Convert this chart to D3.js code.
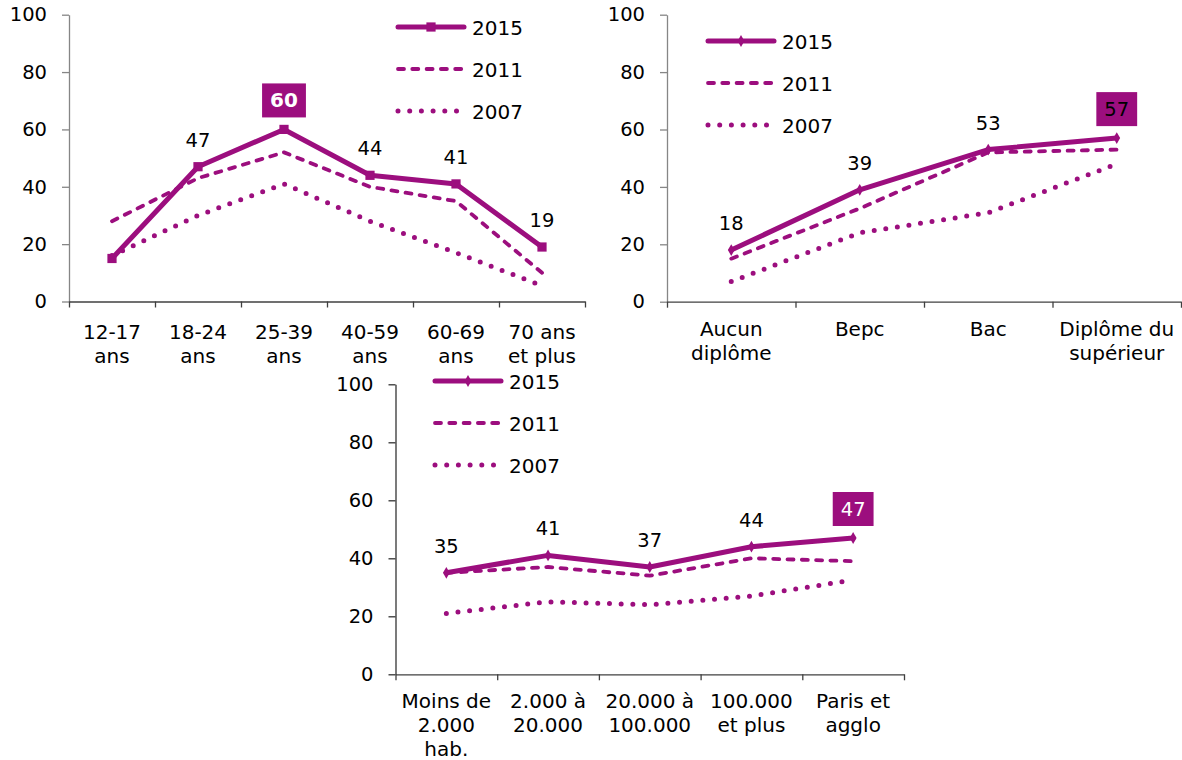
<!DOCTYPE html>
<html>
<head>
<meta charset="utf-8">
<script src="https://cdn.jsdelivr.net/npm/d3@7"></script>
<style>
  html, body { margin: 0; padding: 0; background: #fff; }
  svg { display: block; }
  text { font-family: "DejaVu Sans", Verdana, sans-serif; fill: #000; }
</style>
</head>
<body>
<svg id="chart" width="1182" height="760"></svg>
<script>
// ---------- DATA ----------
const years = ["2015", "2011", "2007"];
const yTicks = [0, 20, 40, 60, 80, 100];

// Chart 1 : age
const ageCats = ["12-17\nans", "18-24\nans", "25-39\nans", "40-59\nans", "60-69\nans", "70 ans\net plus"];
const age2015 = [15, 47, 60, 44, 41, 19];
const age2011 = [28, 43, 52, 40, 35, 10];
const age2007 = [16, 30, 41, 28, 17, 5.5];
const ageLabelShown = [false, true, true, true, true, true];
const ageHighlight = 2;

// Chart 2 : diplôme
const eduCats = ["Aucun\ndiplôme", "Bepc", "Bac", "Diplôme du\nsupérieur"];
const edu2015 = [18, 39, 53, 57];
const edu2011 = [15, 32.5, 52, 53];
const edu2007 = [7, 24, 31, 48];
const eduLabelShown = [true, true, true, true];
const eduHighlight = 3;

// Chart 3 : taille d'agglomération
const cityCats = ["Moins de\n2.000\nhab.", "2.000 à\n20.000", "20.000 à\n100.000", "100.000\net plus", "Paris et\nagglo"];
const city2015 = [35, 41, 37, 44, 47];
const city2011 = [35, 37, 34, 40, 39];
const city2007 = [21, 25, 24, 27, 32.5];
const cityLabelShown = [true, true, true, true, true];
const cityHighlight = 4;

// ---------- STYLE ----------
const PURPLE = "#9C0E7E";
const svg = d3.select("#chart");

const seriesStyles = {
  "2015": { width: 5, dash: null, cap: "round" },
  "2011": { width: 3.8, dash: "6,8.3", cap: "round" },
  "2007": { width: 5, dash: "0,11.7", cap: "round" }
};

function drawChart(cfg) {
  const g = svg.append("g");
  const n = cfg.cats.length;
  const y = d3.scaleLinear().domain([0, 100]).range([cfg.bottom, cfg.top]);
  const xb = d3.scaleBand().domain(d3.range(n)).range([cfg.left, cfg.right]).padding(0);
  const xc = i => xb(i) + xb.bandwidth() / 2;
  const xEdge = d3.scaleLinear().domain([0, n]).range([cfg.left, cfg.right]);

  // y axis
  const ya = g.append("g")
    .attr("transform", `translate(${cfg.left},0)`)
    .call(d3.axisLeft(y).tickValues(yTicks).tickSize(7).tickSizeOuter(0).tickPadding(15));
  ya.selectAll("path, line").attr("stroke", cfg.yAxisColor).attr("stroke-width", 1.3);
  ya.selectAll("text").style("font-size", "19.5px").style("font-family", '"DejaVu Sans", Verdana, sans-serif').attr("fill", "#000");

  // x axis (boundary ticks)
  const xa = g.append("g")
    .attr("transform", `translate(0,${cfg.bottom})`)
    .call(d3.axisBottom(xEdge).tickValues(d3.range(n + 1)).tickSize(6).tickSizeOuter(0).tickFormat(""));
  xa.selectAll("path, line").attr("stroke", "#404040").attr("stroke-width", 1.3);

  // category labels
  cfg.cats.forEach((c, i) => {
    const lines = c.split("\n");
    const t = g.append("text")
      .attr("x", xc(i)).attr("y", cfg.bottom + cfg.catOffset)
      .attr("text-anchor", "middle")
      .style("font-size", "20px");
    lines.forEach((l, k) => {
      t.append("tspan").attr("x", xc(i)).attr("dy", k === 0 ? 0 : 24).text(l);
    });
  });

  // series lines
  const line = d3.line().x((d, i) => xc(i)).y(d => y(d));
  const seriesData = { "2015": cfg.s2015, "2011": cfg.s2011, "2007": cfg.s2007 };
  ["2007", "2011", "2015"].forEach(yr => {
    const st = seriesStyles[yr];
    g.append("path")
      .datum(seriesData[yr])
      .attr("d", line)
      .attr("fill", "none")
      .attr("stroke", PURPLE)
      .attr("stroke-width", st.width)
      .attr("stroke-linecap", st.cap)
      .attr("stroke-linejoin", "round")
      .attr("stroke-dasharray", st.dash);
  });

  // markers on 2015
  const sym = cfg.marker === "square"
    ? d3.symbol().type(d3.symbolSquare).size(85)
    : d3.symbol().type(d3.symbolDiamond).size(40);
  g.selectAll(".mk").data(cfg.s2015).enter().append("path")
    .attr("d", sym)
    .attr("transform", (d, i) => `translate(${xc(i)},${y(d)})`)
    .attr("fill", PURPLE);

  // data labels
  cfg.s2015.forEach((v, i) => {
    if (!cfg.shown[i]) return;
    const px = xc(i), py = y(v);
    if (i === cfg.highlight) {
      const t = g.append("text")
        .attr("x", px).attr("y", py - 12 - 17 + 7)
        .attr("text-anchor", "middle")
        .style("font-size", cfg.hiBold ? "20px" : "19.5px")
        .style("font-weight", cfg.hiBold ? "bold" : "normal")
        .attr("fill", cfg.hiTextColor)
        .style("fill", cfg.hiTextColor)
        .text(v);
      const w = t.node().getBBox().width + 16;
      g.insert("rect", () => t.node())
        .attr("x", px - w / 2).attr("y", py - 12 - 34)
        .attr("width", w).attr("height", 34)
        .attr("fill", PURPLE);
    } else {
      g.append("text")
        .attr("x", px).attr("y", py - 20)
        .attr("text-anchor", "middle")
        .style("font-size", "19.5px")
        .text(v);
    }
  });

  // legend
  years.forEach((yr, k) => {
    const st = seriesStyles[yr];
    const ly = cfg.legY + k * 42;
    g.append("line")
      .attr("x1", cfg.legX + 2).attr("x2", cfg.legX + 68)
      .attr("y1", ly).attr("y2", ly)
      .attr("stroke", PURPLE)
      .attr("stroke-width", st.width)
      .attr("stroke-linecap", st.cap)
      .attr("stroke-dasharray", st.dash);
    if (yr === "2015") {
      g.append("path").attr("d", sym)
        .attr("transform", `translate(${cfg.legX + 35},${ly})`)
        .attr("fill", PURPLE);
    }
    g.append("text")
      .attr("x", cfg.legX + 76).attr("y", ly + 7.5)
      .style("font-size", "20px")
      .text(yr);
  });
}

drawChart({
  cats: ageCats, s2015: age2015, s2011: age2011, s2007: age2007,
  shown: ageLabelShown, highlight: ageHighlight, hiBold: true, hiTextColor: "#ffffff",
  left: 69, right: 585, top: 14.7, bottom: 301.5, catOffset: 37,
  marker: "square", legX: 396, legY: 27, yAxisColor: "#868686"
});

drawChart({
  cats: eduCats, s2015: edu2015, s2011: edu2011, s2007: edu2007,
  shown: eduLabelShown, highlight: eduHighlight, hiBold: false, hiTextColor: "#000000",
  left: 667, right: 1181, top: 14.7, bottom: 301.7, catOffset: 34,
  marker: "diamond", legX: 706, legY: 41, yAxisColor: "#868686"
});

drawChart({
  cats: cityCats, s2015: city2015, s2011: city2011, s2007: city2007,
  shown: cityLabelShown, highlight: cityHighlight, hiBold: false, hiTextColor: "#ffffff",
  left: 395.5, right: 904, top: 384.3, bottom: 674.3, catOffset: 34,
  marker: "diamond", legX: 433, legY: 381, yAxisColor: "#333333"
});
</script>
</body>
</html>
